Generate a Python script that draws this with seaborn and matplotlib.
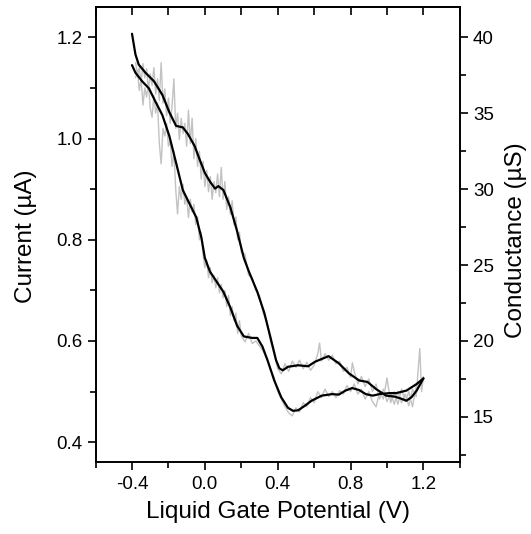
import matplotlib
matplotlib.use("Agg")
import matplotlib.pyplot as plt
from matplotlib.ticker import MultipleLocator
import seaborn as sns

# smoothed sweeps (black)
up_v = [-0.400, -0.381, -0.363, -0.326, -0.279, -0.233, -0.195, -0.158, -0.121, -0.093,
        -0.056, -0.028, 0.000, 0.028, 0.056, 0.074, 0.102, 0.140, 0.177, 0.214,
        0.242, 0.288, 0.326, 0.363, 0.391, 0.409, 0.428, 0.456, 0.512, 0.567,
        0.605, 0.679, 0.735, 0.791, 0.847, 0.893, 0.940, 0.995, 1.042, 1.070,
        1.107, 1.135, 1.163, 1.200]
up_i = [1.207, 1.166, 1.146, 1.130, 1.113, 1.086, 1.052, 1.025, 1.022, 1.009,
        0.985, 0.958, 0.932, 0.915, 0.901, 0.906, 0.898, 0.864, 0.817, 0.764,
        0.737, 0.697, 0.656, 0.603, 0.562, 0.546, 0.542, 0.549, 0.552, 0.550,
        0.559, 0.570, 0.556, 0.536, 0.522, 0.519, 0.505, 0.492, 0.490, 0.487,
        0.482, 0.489, 0.502, 0.526]

lo_v = [-0.400, -0.381, -0.344, -0.307, -0.270, -0.233, -0.195, -0.158, -0.121, -0.084,
        -0.047, -0.019, 0.000, 0.028, 0.065, 0.102, 0.140, 0.177, 0.214, 0.260,
        0.288, 0.316, 0.344, 0.381, 0.419, 0.456, 0.484, 0.512, 0.549, 0.586,
        0.642, 0.698, 0.735, 0.772, 0.809, 0.847, 0.884, 0.921, 0.958, 1.014,
        1.051, 1.107, 1.163, 1.200]
lo_i = [1.145, 1.130, 1.113, 1.099, 1.072, 1.046, 1.005, 0.952, 0.898, 0.871,
        0.844, 0.804, 0.764, 0.737, 0.717, 0.697, 0.666, 0.630, 0.609, 0.606,
        0.606, 0.589, 0.562, 0.522, 0.489, 0.468, 0.462, 0.463, 0.472, 0.482,
        0.492, 0.495, 0.494, 0.502, 0.507, 0.503, 0.495, 0.492, 0.495, 0.497,
        0.497, 0.502, 0.515, 0.526]

# raw data (grey)
raw_up_v = [-0.38, -0.37, -0.36, -0.35, -0.34, -0.33, -0.32, -0.31, -0.30, -0.29,
            -0.28, -0.27, -0.26, -0.25, -0.24, -0.23, -0.22, -0.21, -0.20, -0.19,
            -0.18, -0.17, -0.16, -0.15, -0.14, -0.13, -0.12, -0.11, -0.10, -0.09,
            -0.08, -0.07, -0.06, -0.05, -0.04, -0.03, -0.02, -0.01, 0.00, 0.01,
            0.02, 0.03, 0.04, 0.05, 0.06, 0.07, 0.08, 0.09, 0.10, 0.11,
            0.12, 0.13, 0.14, 0.15, 0.16, 0.17, 0.18, 0.19, 0.20,
            0.22, 0.24, 0.26, 0.28, 0.30, 0.32, 0.34, 0.36, 0.38, 0.40,
            0.42, 0.44, 0.46, 0.48, 0.50, 0.52, 0.54, 0.56, 0.58, 0.60,
            0.62, 0.63, 0.64, 0.66, 0.68, 0.70, 0.72, 0.74, 0.76, 0.78,
            0.80, 0.81, 0.82, 0.84, 0.86, 0.88, 0.90, 0.92, 0.94, 0.96,
            0.98, 1.00, 1.02, 1.04, 1.06, 1.08, 1.10, 1.12, 1.14, 1.16,
            1.18, 1.19, 1.20]
raw_up_i = [1.150, 1.125, 1.140, 1.110, 1.148, 1.120, 1.138, 1.095, 1.128, 1.105,
            1.140, 1.088, 1.118, 1.075, 1.150, 1.070, 1.098, 1.045, 1.080, 1.030,
            1.065, 1.118, 1.020, 1.050, 0.998, 1.040, 1.010, 1.030, 0.985, 1.056,
            0.990, 1.040, 0.960, 1.000, 0.945, 0.975, 0.920, 0.955, 0.905, 0.937,
            0.895, 0.925, 0.880, 0.915, 0.893, 0.930, 0.885, 0.943, 0.880, 0.915,
            0.860, 0.885, 0.850, 0.877, 0.830, 0.845, 0.800, 0.815, 0.775,
            0.772, 0.730, 0.725, 0.700, 0.690, 0.655, 0.640, 0.600, 0.575, 0.545,
            0.535, 0.555, 0.540, 0.560, 0.548, 0.562, 0.545, 0.558, 0.542, 0.552,
            0.575, 0.596, 0.560, 0.575, 0.562, 0.572, 0.555, 0.560, 0.540, 0.548,
            0.528, 0.557, 0.540, 0.515, 0.530, 0.510, 0.525, 0.500, 0.515, 0.485,
            0.505, 0.480, 0.498, 0.475, 0.500, 0.478, 0.495, 0.472, 0.505, 0.490,
            0.585, 0.500, 0.530]

raw_lo_v = [-0.38, -0.37, -0.36, -0.35, -0.34, -0.33, -0.32, -0.31, -0.30, -0.29,
            -0.28, -0.27, -0.26, -0.25, -0.24, -0.23, -0.22, -0.21, -0.20, -0.19,
            -0.18, -0.17, -0.16, -0.15, -0.14, -0.13, -0.12, -0.11, -0.10, -0.09,
            -0.08, -0.07, -0.06, -0.05, -0.04, -0.03, -0.02, -0.01, 0.00, 0.01,
            0.02, 0.03, 0.04, 0.05, 0.06, 0.07, 0.08, 0.09, 0.10, 0.11,
            0.12, 0.13, 0.14, 0.15, 0.16, 0.17, 0.18, 0.19, 0.20,
            0.22, 0.24, 0.26, 0.28, 0.30, 0.32, 0.34, 0.36, 0.38, 0.40,
            0.42, 0.44, 0.46, 0.48, 0.50, 0.52, 0.54, 0.56, 0.58, 0.60,
            0.62, 0.64, 0.66, 0.68, 0.70, 0.72, 0.74, 0.76, 0.78, 0.80,
            0.82, 0.84, 0.86, 0.88, 0.90, 0.92, 0.94, 0.96, 0.98, 1.00,
            1.02, 1.04, 1.06, 1.08, 1.10, 1.12, 1.14, 1.16, 1.18, 1.20]
raw_lo_i = [1.120, 1.135, 1.095, 1.118, 1.066, 1.100, 1.082, 1.110, 1.060, 1.042,
            1.085, 1.050, 1.070, 0.990, 0.950, 1.020, 1.005, 1.030, 0.985, 0.995,
            0.945, 0.975, 0.900, 0.851, 0.905, 0.880, 0.910, 0.870, 0.885, 0.844,
            0.880, 0.855, 0.870, 0.830, 0.845, 0.800, 0.815, 0.770, 0.745, 0.760,
            0.725, 0.745, 0.715, 0.730, 0.705, 0.725, 0.695, 0.712, 0.685, 0.700,
            0.668, 0.690, 0.650, 0.668, 0.640, 0.655, 0.615, 0.640, 0.610,
            0.598, 0.615, 0.595, 0.600, 0.590, 0.580, 0.565, 0.545, 0.528, 0.500,
            0.485, 0.470, 0.458, 0.452, 0.468, 0.460, 0.478, 0.470, 0.488, 0.478,
            0.500, 0.488, 0.505, 0.490, 0.500, 0.488, 0.502, 0.495, 0.512, 0.500,
            0.515, 0.495, 0.505, 0.485, 0.500, 0.480, 0.470, 0.500, 0.485, 0.527,
            0.478, 0.500, 0.475, 0.505, 0.480, 0.500, 0.470, 0.510, 0.520, 0.528]

x_major = [-0.4, 0.0, 0.4, 0.8, 1.2]
x_labels = ["-0.4", "0.0", "0.4", "0.8", "1.2"]
left_major = [0.4, 0.6, 0.8, 1.0, 1.2]
right_major = [15, 20, 25, 30, 35, 40]

sns.set_style("ticks")
plt.rcParams["font.family"] = ["Liberation Sans", "DejaVu Sans"]
plt.rcParams["axes.linewidth"] = 1.2
for k in ["text.color", "axes.labelcolor", "xtick.color", "ytick.color", "axes.edgecolor"]:
    plt.rcParams[k] = "black"

fig = plt.figure(figsize=(5.31, 5.34), dpi=100)
ax = fig.add_axes([0.180, 0.134, 0.686, 0.853])

grey = "#c2c2c2"
sns.lineplot(x=raw_up_v, y=raw_up_i, sort=False, estimator=None, color=grey, lw=1.0, ax=ax)
sns.lineplot(x=raw_lo_v, y=raw_lo_i, sort=False, estimator=None, color=grey, lw=1.0, ax=ax)
sns.lineplot(x=up_v, y=up_i, sort=False, estimator=None, color="black", lw=1.6, ax=ax)
sns.lineplot(x=lo_v, y=lo_i, sort=False, estimator=None, color="black", lw=1.6, ax=ax)

ax.set_xlim(-0.6, 1.4)
ax.set_ylim(0.36, 1.26)
ax.set_xticks(x_major)
ax.set_xticklabels(x_labels)
ax.xaxis.set_minor_locator(MultipleLocator(0.2))
ax.set_yticks(left_major)
ax.set_yticklabels([f"{v:.1f}" for v in left_major])
ax.yaxis.set_minor_locator(MultipleLocator(0.1))
ax.tick_params(which="both", direction="out", width=1.2, labelsize=13.5, pad=3.5)
ax.tick_params(which="major", length=6)
ax.tick_params(which="minor", length=4)
ax.set_xlabel("Liquid Gate Potential (V)", fontsize=17.5, labelpad=6)
ax.set_ylabel("Current (\u00b5A)", fontsize=17.5)
ax.yaxis.set_label_coords(-0.162, 0.497)

top = ax.secondary_xaxis("top")
top.set_xticks(x_major)
top.xaxis.set_minor_locator(MultipleLocator(0.2))
top.tick_params(which="both", direction="in", length=6, width=1.2, labeltop=False)
top.spines["top"].set_linewidth(1.2)

ax2 = ax.twinx()
ax2.set_ylim(12, 42)
ax2.set_yticks(right_major)
ax2.yaxis.set_minor_locator(MultipleLocator(2.5))
ax2.tick_params(which="both", direction="out", width=1.2, labelsize=13.5, pad=3.5)
ax2.tick_params(which="major", length=6)
ax2.tick_params(which="minor", length=4)
ax2.set_ylabel("Conductance (\u00b5S)", fontsize=17.5)
ax2.yaxis.set_label_coords(1.125, 0.488)
for s in ax2.spines.values():
    s.set_linewidth(1.2)

fig.savefig("out.png", dpi=100)
